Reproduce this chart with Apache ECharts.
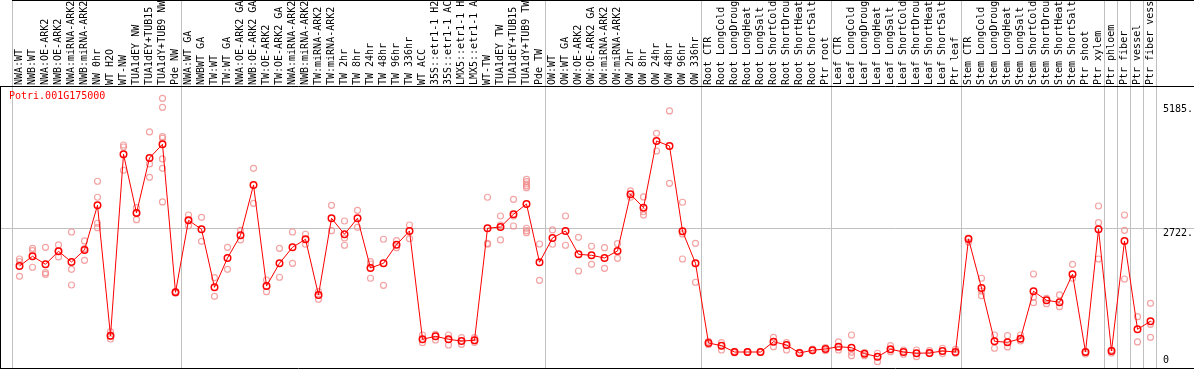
<!DOCTYPE html>
<html>
<head>
<meta charset="utf-8">
<script src="https://cdn.jsdelivr.net/npm/echarts@6/dist/echarts.min.js"></script>
<style>
html,body{margin:0;padding:0;background:#fff;}
#chart{width:1194px;height:370px;}
</style>
</head>
<body>
<div id="chart"></div>
<script>
const geneId = 'Potri.001G175000';

const categories = [
  'NWA:WT','NWB:WT','NWA:OE-ARK2','NWB:OE-ARK2','NWA:miRNA-ARK2','NWB:miRNA-ARK2','NW 0hr','WT H2O','WT-NW','TUA1dEY NW',
  'TUA1dEY+TUB15 NW','TUA1dY+TUB9 NW','Pde NW','NWA:WT GA','NWBWT GA','TW:WT','TW:WT GA','NWA:OE-ARK2 GA','NWB:OE-ARK2 GA','TW:OE-ARK2',
  'TW:OE-ARK2 GA','NWA:miRNA-ARK2','NWB:miRNA-ARK2','TW:miRNA-ARK2','TW:miRNA-ARK2','TW 2hr','TW 8hr','TW 24hr','TW 48hr','TW 96hr',
  'TW 336hr','WT ACC','35S::etr1-1 H2O','35S::etr1-1 ACC','LMX5::etr1-1 H2O','LMX5::etr1-1 ACC','WT-TW','TUA1dEY TW','TUA1dEY+TUB15 TW','TUA1dY+TUB9 TW',
  'Pde TW','OW:WT','OW:WT GA','OW:OE-ARK2','OW:OE-ARK2 GA','OW:miRNA-ARK2','OW:miRNA-ARK2','OW 2hr','OW 8hr','OW 24hr',
  'OW 48hr','OW 96hr','OW 336hr','Root CTR','Root LongCold','Root LongDrought','Root LongHeat','Root LongSalt','Root ShortCold','Root ShortDrought',
  'Root ShortHeat','Root ShortSalt','Ptr root','Leaf CTR','Leaf LongCold','Leaf LongDrought','Leaf LongHeat','Leaf LongSalt','Leaf ShortCold','Leaf ShortDrought',
  'Leaf ShortHeat','Leaf ShortSalt','Ptr leaf','Stem CTR','Stem LongCold','Stem LongDrought','Stem LongHeat','Stem LongSalt','Stem ShortCold','Stem ShortDrought',
  'Stem ShortHeat','Stem ShortSalt','Ptr shoot','Ptr xylem','Ptr phloem','Ptr fiber','Ptr vessel','Ptr fiber vessel'
];

const means = [
  1975, 2168, 2009, 2267, 2055, 2293, 3178, 593, 4189, 3026,
  4116, 4387, 1454, 2881, 2703, 1553, 2134, 2584, 3581, 1579,
  2029, 2346, 2505, 1401, 2921, 2604, 2921, 1936, 2029, 2398,
  2669, 523, 582, 523, 489, 503, 2723, 2748, 3000, 3204,
  2049, 2530, 2669, 2207, 2187, 2134, 2273, 3396, 3131, 4452,
  4353, 2663, 2029, 450, 396, 271, 271, 271, 476, 410,
  252, 305, 331, 376, 357, 238, 178, 325, 271, 246,
  252, 291, 271, 2511, 1540, 483, 463, 535, 1474, 1296,
  1256, 1811, 271, 2703, 291, 2471, 721, 880
];

const replicates = [
  [2114, 2061, 1771], [2326, 2279, 1950], [2346, 1843, 1811], [2392, 2267, 2154], [2649, 1910, 1599],
  [2471, 2320, 2088], [3654, 3337, 2822, 2735], [668, 582, 529], [4373, 4333, 3872], [3131, 3026, 2893],
  [4631, 3997, 3733], [5298, 5120, 4538, 4506, 4096, 3911, 3244], [1470, 1454, 1440], [2986, 2881, 2774], [2940, 2465],
  [1744, 1375], [2346, 1910], [2683, 2491], [3911, 3218], [1698, 1466],
  [2326, 1752], [2649, 2029], [2604, 2406], [1466, 1316], [3178, 2675],
  [2867, 2530, 2386], [3079, 2742], [2061, 2015, 1732], [2505, 1593], [2477, 2338],
  [2788, 2517], [608, 456], [622, 509], [608, 410], [555, 424],
  [555, 463], [3337, 2425, 2407], [2966, 2788, 2491], [3297, 2966, 2768], [3693, 3646, 3600, 3561, 3527, 2723, 2675, 2635],
  [2411, 1692], [2689, 2406], [2966, 2386], [2544, 1876], [2366, 2009],
  [2338, 1930], [2417, 2128], [3462, 3337], [3343, 3052, 2986], [4605, 4254],
  [5047, 3614], [3238, 2610, 2114], [2425, 1653], [480, 420], [456, 311],
  [285, 258], [280, 262], [276, 266], [562, 376], [456, 311],
  [262, 240], [330, 300], [357, 300], [470, 311], [608, 265, 198],
  [258, 198], [246, 79], [396, 277], [311, 226], [311, 178],
  [300, 240], [345, 240], [325, 246], [2530, 2450], [1732, 1480, 1387],
  [608, 345], [595, 371], [608, 489], [1817, 1248, 1357], [1335, 1229],
  [1401, 1169], [2009, 1732], [271, 231], [3164, 2834, 2114], [311, 251],
  [2986, 2683, 1718], [971, 470], [1236, 820, 562]
];

const yTickLabels = [2722, 5185];
const yZeroLabel = [0];
// category boundaries where grey group separators are drawn
const groupBreaks = [0, 13, 41, 53, 63, 73, 84, 85, 86, 87, 88];

const repPoints = [];
replicates.forEach(function (arr, i) {
  arr.forEach(function (v) { repPoints.push([i, v]); });
});

const MONO = '"DejaVu Sans Mono", "Liberation Mono", monospace';
const Y_MIN = -46, Y_MAX = 5522;

const chart = echarts.init(document.getElementById('chart'), null, {renderer: 'canvas'});
const option = {
  animation: false,
  backgroundColor: '#ffffff',
  title: {
    text: geneId,
    left: 9, top: 91, padding: 0,
    textStyle: {color: '#ff0000', fontSize: 10, fontWeight: 'normal', fontFamily: MONO}
  },
  grid: {left: 13, right: 37, top: 87, bottom: 2, containLabel: false, outerBoundsMode: 'none'},
  xAxis: {
    type: 'category',
    position: 'top',
    data: categories,
    boundaryGap: true,
    axisLine: {show: false},
    axisTick: {show: false},
    splitLine: {show: false},
    axisLabel: {
      interval: 0, rotate: 90, margin: 2, hideOverlap: false,
      color: '#000', fontSize: 10, fontFamily: MONO
    }
  },
  yAxis: [{
    type: 'value', position: 'right', min: Y_MIN, max: Y_MAX,
    axisLine: {show: false}, axisTick: {show: false}, splitLine: {show: false},
    axisLabel: {
      customValues: yTickLabels, margin: 6, verticalAlign: 'top', lineHeight: 10,
      color: '#000', fontSize: 10, fontFamily: MONO,
      formatter: function (v) { return v + '.'; }
    }
  }, {
    type: 'value', position: 'right', min: Y_MIN, max: Y_MAX,
    axisLine: {show: false}, axisTick: {show: false}, splitLine: {show: false},
    axisLabel: {
      customValues: yZeroLabel, margin: 6, verticalAlign: 'bottom', lineHeight: 10,
      color: '#000', fontSize: 10, fontFamily: MONO,
      formatter: function (v) { return String(v); }
    }
  }],
  series: [{
    name: 'replicates',
    type: 'scatter',
    data: repPoints,
    symbol: 'circle',
    symbolSize: 6,
    itemStyle: {color: 'rgba(0,0,0,0)', borderColor: '#f08c8c', borderWidth: 1.2},
    z: 2
  }, {
    name: 'mean',
    type: 'line',
    data: means,
    showSymbol: true,
    showAllSymbol: true,
    symbol: 'circle',
    symbolSize: 6.5,
    lineStyle: {color: '#ff0000', width: 1},
    itemStyle: {color: 'rgba(0,0,0,0)', borderColor: '#ff0000', borderWidth: 1.5},
    z: 3
  }]
};
chart.setOption(option);

// decorations positioned from the axes
const W = 1194;
const px0 = chart.convertToPixel({xAxisIndex: 0}, 0);
const band = chart.convertToPixel({xAxisIndex: 0}, 1) - px0;
const gTop = chart.convertToPixel({yAxisIndex: 0}, Y_MAX);
const gBot = chart.convertToPixel({yAxisIndex: 0}, Y_MIN);
const yGrid = Math.round(chart.convertToPixel({yAxisIndex: 0}, yTickLabels[0])) + 0.5;
const graphics = [];
groupBreaks.forEach(function (b) {
  const x = Math.round(px0 + (b - 1) * band + band * 5 / 13) + 0.5;
  graphics.push({type: 'line', shape: {x1: x, y1: 0, x2: x, y2: gBot}, style: {stroke: '#c0c0c0', lineWidth: 1}, z: 0, silent: true});
});
graphics.push({type: 'line', shape: {x1: 0, y1: yGrid, x2: W, y2: yGrid}, style: {stroke: '#c0c0c0', lineWidth: 1}, z: 0, silent: true});
const frameTop = Math.round(gTop) - 0.5, frameBot = Math.round(gBot) + 0.5;
graphics.push({type: 'line', shape: {x1: 0, y1: frameTop, x2: W, y2: frameTop}, style: {stroke: '#000', lineWidth: 1}, z: 1, silent: true});
graphics.push({type: 'line', shape: {x1: 0, y1: frameBot, x2: W, y2: frameBot}, style: {stroke: '#000', lineWidth: 1}, z: 1, silent: true});
graphics.push({type: 'line', shape: {x1: 0.5, y1: frameTop, x2: 0.5, y2: frameBot}, style: {stroke: '#000', lineWidth: 1}, z: 1, silent: true});
graphics.push({type: 'line', shape: {x1: Math.round(px0 - band * 8 / 13), y1: 0.5, x2: W, y2: 0.5}, style: {stroke: '#000', lineWidth: 1}, z: 1, silent: true});
chart.setOption({graphic: graphics});
</script>
</body>
</html>
